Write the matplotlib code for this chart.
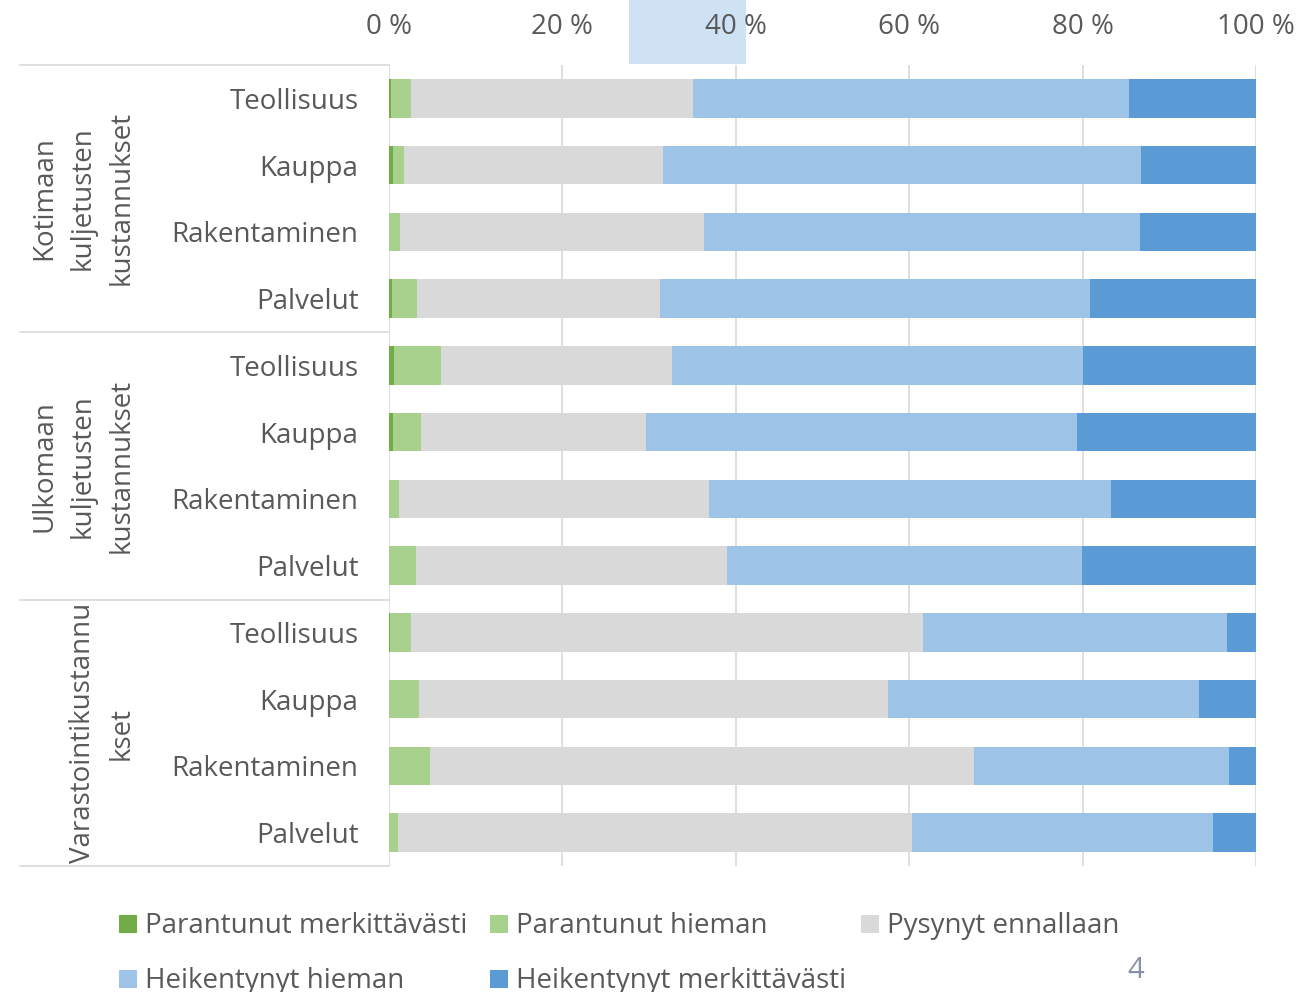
import matplotlib
matplotlib.use("Agg")
import matplotlib.pyplot as plt
import numpy as np
from matplotlib.patches import Rectangle
from matplotlib.lines import Line2D

plt.rcParams['font.family'] = ['Open Sans', 'DejaVu Sans']

# rivit ylhäältä alas
toimialat = ["Teollisuus", "Kauppa", "Rakentaminen", "Palvelut"] * 3
ryhmat = ["Kotimaan\nkuljetusten\nkustannukset",
          "Ulkomaan\nkuljetusten\nkustannukset",
          "Varastointikustannu\nkset"]

sarjat = ["Parantunut merkittävästi", "Parantunut hieman", "Pysynyt ennallaan",
          "Heikentynyt hieman", "Heikentynyt merkittävästi"]
varit = ["#70AD47", "#A9D18E", "#D9D9D9", "#9DC3E6", "#5B9BD5"]

par_merk = [0.2, 0.5, 0.0, 0.3, 0.6, 0.5, 0.0, 0.0, 0.1, 0.0, 0.0, 0.0]
par_hiem = [2.3, 1.2, 1.3, 2.9, 5.4, 3.2, 1.2, 3.1, 2.4, 3.5, 4.7, 1.0]
pysynyt = [32.6, 29.9, 35.0, 28.1, 26.6, 26.0, 35.7, 35.9, 59.1, 54.1, 62.8, 59.3]
heik_hiem = [50.3, 55.1, 50.3, 49.5, 47.5, 49.7, 46.4, 40.9, 35.1, 35.8, 29.4, 34.7]
heik_merk = [14.6, 13.3, 13.4, 19.2, 19.9, 20.6, 16.7, 20.1, 3.3, 6.6, 3.1, 5.0]

tekstivari = "#595959"
koko = 20
W, H = 1309, 992

fig = plt.figure(figsize=(W / 100, H / 100), dpi=100)
ax = fig.add_axes([389 / W, 1 - 866 / H, (1256 - 389) / W, (866 - 65) / H])

y = np.arange(len(toimialat))
vasen = np.zeros(len(toimialat))
for arvot, vari, nimi in zip([par_merk, par_hiem, pysynyt, heik_hiem, heik_merk], varit, sarjat):
    ax.barh(y, arvot, left=vasen, height=0.58, color=vari, label=nimi, zorder=3)
    vasen += np.array(arvot)

ax.set_xlim(0, 100)
ax.set_ylim(len(toimialat) - 0.5, -0.5)
ax.xaxis.tick_top()
ax.set_xticks(np.arange(0, 101, 20))
ax.set_xticklabels([f"{v} %" for v in range(0, 101, 20)])
ax.set_yticks(y)
ax.set_yticklabels(toimialat)
ax.tick_params(axis='x', length=0, pad=17, labelsize=koko, labelcolor=tekstivari)
ax.tick_params(axis='y', length=0, pad=22, labelsize=koko, labelcolor=tekstivari)
ax.grid(axis='x', color="#D9D9D9", linewidth=1.2, zorder=0)
for s in ax.spines.values():
    s.set_visible(False)

# kategoriataulukon viivat
for yp in [65, 332, 600, 866]:
    fig.add_artist(Line2D([20 / W, 389 / W], [1 - yp / H, 1 - yp / H],
                          color="#D9D9D9", linewidth=1.2))

# ryhmien nimet
for nimi, (xp, yp) in zip(ryhmat, [(83, 198), (83, 466), (102, 733)]):
    fig.text(xp / W, 1 - yp / H, nimi, rotation=90, ha='center', va='center',
             fontsize=koko, color=tekstivari, linespacing=1.5, multialignment='center')

# vaaleansininen laatikko ylhäällä
fig.add_artist(Rectangle((629 / W, 1 - 64 / H), (746 - 629) / W, 64 / H,
                         facecolor="#CFE2F3", edgecolor='none', zorder=0))

# selite
paikat = [(128, 924), (499, 924), (870, 924), (128, 979), (499, 979)]
for nimi, vari, (xp, yp) in zip(sarjat, varit, paikat):
    fig.add_artist(Rectangle(((xp - 9) / W, 1 - (yp + 9) / H), 18 / W, 18 / H,
                             facecolor=vari, edgecolor='none'))
    fig.text((xp + 17) / W, 1 - (yp + 2) / H, nimi, ha='left', va='center',
             fontsize=koko, color=tekstivari)

fig.text(1136 / W, 1 - 970 / H, "4", ha='center', va='center', fontsize=21, color="#8A8FA8")

fig.savefig("out.png", dpi=100)
